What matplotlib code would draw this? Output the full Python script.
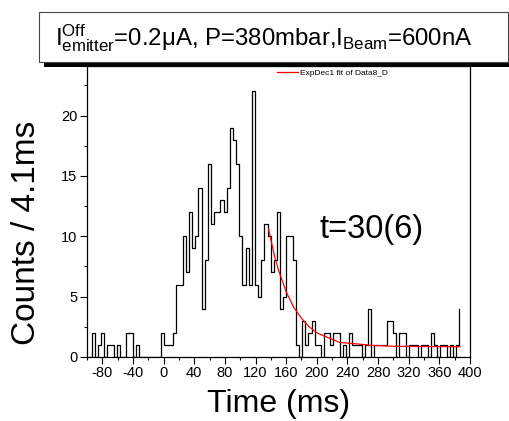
import numpy as np
import matplotlib
matplotlib.use('Agg')
import matplotlib.pyplot as plt
from matplotlib.patches import Rectangle
from matplotlib.ticker import MultipleLocator

plt.rcParams['font.family'] = ['Liberation Sans', 'DejaVu Sans']
plt.rcParams['mathtext.fontset'] = 'custom'
plt.rcParams['mathtext.rm'] = 'Liberation Sans'
plt.rcParams['mathtext.it'] = 'Liberation Sans:italic'
plt.rcParams['axes.unicode_minus'] = False

# histogram: 4.1 ms bins, left edges start at -98 ms
bin_start = -98.0
bin_width = 4.1
counts = [
    0, 2, 0, 1, 2, 0, 1, 1, 0, 1,
    0, 0, 2, 2, 0, 1, 0, 0, 0, 0,
    0, 0, 0, 2, 1, 1, 1, 2, 6, 6,
    10, 7, 12, 9, 10, 14, 4, 8, 16, 11,
    12, 12, 13, 12, 14, 19, 18, 16, 10, 6,
    9, 6, 22, 6, 5, 8, 11, 10, 7, 8,
    12, 4, 5, 10, 10, 8, 1, 0, 3, 1,
    2, 3, 1, 1, 0, 2, 2, 1, 2, 2,
    0, 1, 0, 2, 1, 1, 1, 0, 1, 4,
    0, 1, 1, 1, 1, 3, 3, 2, 0, 2,
    2, 0, 1, 1, 1, 0, 1, 1, 0, 2,
    1, 0, 1, 1, 0, 1, 0, 1, 4,
]

# ExpDec1 fit curve
fit_t = [137, 145, 150, 160, 170, 180, 190, 200, 215, 230, 250, 270, 300, 330, 360, 387]
fit_y = [10.6, 8.3, 7.2, 5.4, 4.1, 3.2, 2.5, 2.0, 1.6, 1.2, 1.1, 0.97, 0.89, 0.87, 0.86, 0.85]

title_txt = (r'$\mathrm{I}^{\mathrm{Off}}_{\mathrm{emitter}}$=0.2μA, P=380mbar,'
             r'I$_{\mathrm{Beam}}$=600nA')

fig = plt.figure(figsize=(5.10, 4.21), dpi=100)
ax = fig.add_axes([87 / 510, 1 - 357 / 421, 383 / 510, 291 / 421])

t = bin_start + bin_width * np.arange(len(counts))
ax.plot(t, counts, drawstyle='steps-post', color='black', lw=0.9)
ax.plot(fit_t, fit_y, color='red', lw=0.9, label='ExpDec1 fit of Data8_D')

ax.set_xlim(-100, 400)
ax.set_ylim(0, 24.1)
ax.xaxis.set_major_locator(MultipleLocator(40))
ax.xaxis.set_minor_locator(MultipleLocator(20))
ax.yaxis.set_major_locator(MultipleLocator(5))
ax.yaxis.set_minor_locator(MultipleLocator(2.5))
ax.set_xticks(np.arange(-80, 401, 40))
ax.tick_params(which='major', direction='out', length=4.8, width=0.8, labelsize=10.5, pad=2)
ax.tick_params(which='minor', direction='out', length=2.4, width=0.8)
for s in ax.spines.values():
    s.set_linewidth(0.9)

ax.legend(loc='upper left', bbox_to_anchor=(277 / 510, 1 - 69 / 421),
          bbox_transform=fig.transFigure, frameon=False, fontsize=6,
          handlelength=2.5, handletextpad=0.3, borderpad=0, borderaxespad=0)

ax.text(372 / 510, 1 - 229 / 421, 't=30(6)', transform=fig.transFigure,
        fontsize=23.5, ha='center', va='center')

fig.text(27 / 510, 1 - 233 / 421, 'Counts / 4.1ms', rotation=90,
         fontsize=24, ha='center', va='center')
fig.text(279 / 510, 1 - 404 / 421, 'Time (ms)', fontsize=23,
         ha='center', va='center')

# title box with drop shadow
fig.add_artist(Rectangle((44 / 510, 1 - 67 / 421), 470 / 510, 50 / 421,
                         transform=fig.transFigure, facecolor='black',
                         edgecolor='none', zorder=5))
fig.add_artist(Rectangle((39 / 510, 1 - 62 / 421), 469 / 510, 50 / 421,
                         transform=fig.transFigure, facecolor='white',
                         edgecolor='#444444', lw=0.8, zorder=6))
fig.text(264 / 510, 1 - 38 / 421, title_txt, fontsize=17.3,
         ha='center', va='center', zorder=7)

fig.savefig('out.png', dpi=100)
